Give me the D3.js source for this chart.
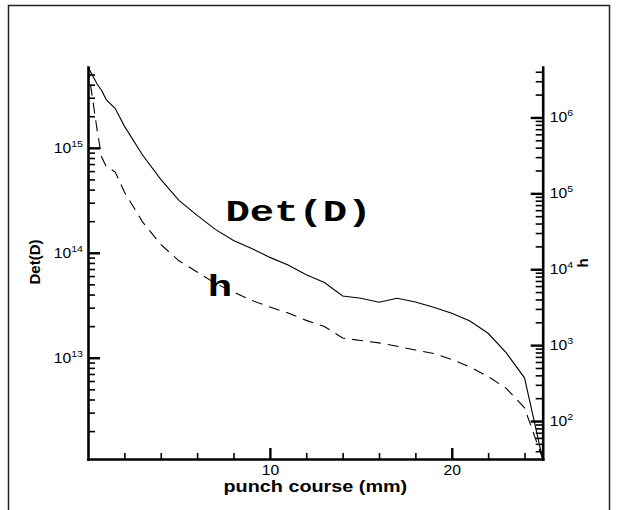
<!DOCTYPE html>
<html><head><meta charset="utf-8">
<script src="https://cdn.jsdelivr.net/npm/d3@7"></script>
<style>body{margin:0;background:#fff} svg{display:block}</style>
</head><body>
<svg id="c" width="618" height="510"></svg>
<script>
// ---- data ----
const punchCourse = [0,0.5,0.75,1,1.5,2,3,4,5,6,7,8,9,10,11,12,13,14,15,16,17,18,19,20,21,22,23,24,25];
const detD = [5.89e15,4.06e15,3.52e15,2.88e15,2.37e15,1.61e15,8.55e14,5.01e14,3.16e14,2.27e14,1.67e14,1.31e14,1.10e14,9.04e13,7.66e13,6.17e13,5.20e13,3.88e13,3.69e13,3.38e13,3.69e13,3.40e13,3.03e13,2.65e13,2.24e13,1.71e13,1.11e13,6.43e12,1.08e12];
const hValues = [4.62e6,6.84e5,3.01e5,2.26e5,1.91e5,1.04e5,4.20e4,2.12e4,1.29e4,9.20e3,6.50e3,5.02e3,3.88e3,3.18e3,2.65e3,2.12e3,1.76e3,1.24e3,1.15e3,1.07e3,966,863,776,647,515,386,269,149,31.6];
const xDomain = [0, 25];
const detDomain = [1.084e12, 5.89e15];
const hDomain = [31.6, 4.62e6];
const xTicks = [2,4,6,8,10,12,14,16,18,20,22,24];
const xMajorTicks = [10,20];

// ---- layout ----
const plot = {left:88, right:542.7, top:67, bottom:459};
const svg = d3.select("#c");
const FONT = "'Liberation Sans', Arial, Helvetica, sans-serif";

svg.append("rect").attr("x",8.5).attr("y",5.5).attr("width",601).attr("height",530)
  .attr("fill","none").attr("stroke","#222").attr("stroke-width",1.5);

const x = d3.scaleLinear().domain(xDomain).range([plot.left, plot.right]);
const yL = d3.scaleLog().domain(detDomain).range([plot.bottom, plot.top]);
const yR = d3.scaleLog().domain(hDomain).range([plot.bottom, plot.top]);

function logTicks(domain){
  const t=[]; const e0=Math.floor(Math.log10(domain[0])), e1=Math.ceil(Math.log10(domain[1]));
  for(let e=e0;e<=e1;e++) for(let m=1;m<=9;m++){
    const v=m*Math.pow(10,e);
    if(v>=domain[0] && v<=domain[1]) t.push(v);
  }
  return t;
}
const isMajor = v => Math.abs(Math.log10(v)-Math.round(Math.log10(v)))<1e-9;

// clip
svg.append("clipPath").attr("id","clip").append("rect")
  .attr("x",plot.left).attr("y",plot.top).attr("width",plot.right-plot.left).attr("height",plot.bottom-plot.top);

const data = punchCourse.map((p,i)=>({x:p, d:detD[i], h:hValues[i]}));
const lineD = d3.line().x(d=>x(d.x)).y(d=>yL(d.d));
const lineH = d3.line().x(d=>x(d.x)).y(d=>yR(d.h));
const g = svg.append("g").attr("clip-path","url(#clip)");
g.append("path").datum(data).attr("d",lineD).attr("fill","none").attr("stroke","#000").attr("stroke-width",1.1);
g.append("path").datum(data).attr("d",lineH).attr("fill","none").attr("stroke","#000").attr("stroke-width",1.1).attr("stroke-dasharray","11,7");

// left axis
const gL = svg.append("g").attr("transform",`translate(${plot.left},0)`)
  .call(d3.axisLeft(yL).tickValues(logTicks(detDomain)).tickSizeInner(-7).tickSizeOuter(0).tickPadding(5)
    .tickFormat(d=>isMajor(d)?"10":""));
// right axis
const gR = svg.append("g").attr("transform",`translate(${plot.right},0)`)
  .call(d3.axisRight(yR).tickValues(logTicks(hDomain)).tickSizeInner(-7).tickSizeOuter(0).tickPadding(7)
    .tickFormat(d=>isMajor(d)?"10":""));
// bottom axis
const gB = svg.append("g").attr("transform",`translate(0,${plot.bottom})`)
  .call(d3.axisBottom(x).tickValues(xTicks).tickSizeInner(-6).tickSizeOuter(0).tickPadding(6)
    .tickFormat(d=>xMajorTicks.includes(d)?String(d):""));

[gL,gR,gB].forEach(a=>{
  a.attr("font-family",FONT).attr("font-size",14);
  a.select(".domain").attr("stroke","#000").attr("stroke-width",2.6).attr("stroke-linecap","square");
  a.selectAll(".tick line").attr("stroke","#000").attr("stroke-width",1.6);
  a.selectAll(".tick text").attr("fill","#000");
});
gL.selectAll(".tick").filter(d=>isMajor(d)).select("line").attr("x2",12).attr("stroke-width",2.4);
gR.selectAll(".tick").filter(d=>isMajor(d)).select("line").attr("x2",-12).attr("stroke-width",2.4);
gB.selectAll(".tick").filter(d=>xMajorTicks.includes(d)).select("line").attr("y2",-11).attr("stroke-width",2.4);
[gL,gR].forEach(a=>{
  a.selectAll(".tick text").filter(d=>isMajor(d)).append("tspan")
    .attr("dy",-6).attr("font-size",9.5).text(d=>Math.round(Math.log10(d)));
});
gL.selectAll(".tick text").attr("transform","translate(-5,0) scale(1.12,1) translate(5,0)");
gR.selectAll(".tick text").attr("transform","translate(7,0) scale(1.12,1) translate(-7,0)");
gB.selectAll(".tick text").attr("transform","scale(1.12,1)");

// axis titles
svg.append("text").attr("transform","translate(39.5,262) rotate(-90)").attr("text-anchor","middle")
  .attr("font-family",FONT).attr("font-weight","bold").attr("font-size",15).text("Det(D)");
svg.append("text").attr("transform","translate(588,263) rotate(-90)").attr("text-anchor","middle")
  .attr("font-family",FONT).attr("font-weight","bold").attr("font-size",15).text("h");
svg.append("text").attr("transform",`translate(${(plot.left+plot.right)/2},492) scale(1.2,1)`).attr("text-anchor","middle")
  .attr("font-family",FONT).attr("font-weight","bold").attr("font-size",16.5).text("punch course (mm)");

// curve annotations
const MONO = "'Liberation Mono', 'DejaVu Sans Mono', monospace";
svg.append("text").attr("transform","translate(298.5,221) scale(1.4,1)").attr("text-anchor","middle")
  .attr("font-family",MONO).attr("font-weight","bold").attr("font-size",29).text("Det(D)");
svg.append("text").attr("transform","translate(220,296) scale(1.4,1)").attr("text-anchor","middle")
  .attr("font-family",MONO).attr("font-weight","bold").attr("font-size",29).text("h");
</script>
</body></html>
